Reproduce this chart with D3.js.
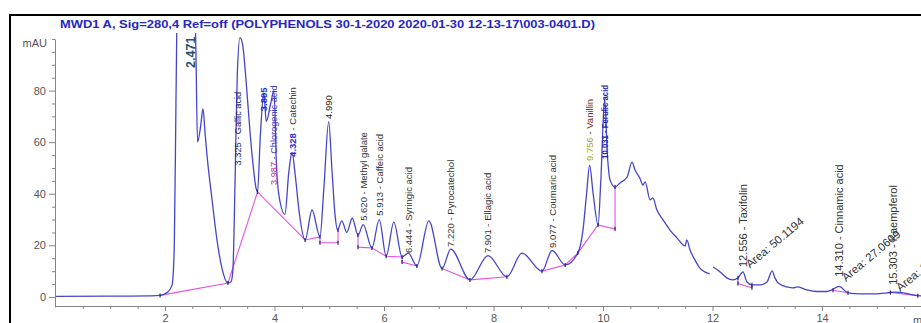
<!DOCTYPE html>
<html>
<head>
<meta charset="utf-8">
<script src="https://cdn.jsdelivr.net/npm/d3@7"></script>
<style>
  html, body { margin: 0; padding: 0; background: #fff; }
  svg { display: block; font-family: 'Liberation Sans', Arial, sans-serif; }
</style>
</head>
<body>
<svg id="chart" width="921" height="323"></svg>
<script>
// Chromatogram signal (min, mAU). null = break in the trace.
var retTime = [
  0.00, 1.00, 1.75, 1.91, 2.05, 2.13, 2.17, 2.20, 2.24, 2.32, 2.40, 2.47, 2.53, 2.565, 2.594,
  2.65, 2.694, 2.73, 2.767, 2.86, 2.95, 3.04, 3.15, 3.205, 3.24, 3.28, 3.32, 3.37, 3.42, 3.48,
  3.55, 3.61, 3.66, 3.69, 3.74, 3.805, 3.85, 3.93, 3.99, 4.04, 4.10, 4.19, 4.26, 4.32, 4.38,
  4.45, 4.56, 4.685, 4.83, 4.90, 4.99, 5.05, 5.105, 5.15, 5.23, 5.32, 5.42, 5.525, 5.62, 5.78,
  5.913, 6.04, 6.18, 6.33, 6.444, 6.60, 6.82, 7.06, 7.22, 7.57, 7.90, 8.245, 8.52, 8.885, 9.07,
  9.31, 9.54, 9.635, 9.70, 9.756, 9.82, 9.91, 9.96, 10.031, 10.08, 10.13, 10.22, 10.31, 10.44, 10.53,
  10.585, 10.675, 10.73, 10.77, 10.86, 10.91, 10.985, 11.10, 11.22, 11.35, 11.50, 11.53, 11.59, 11.68, 11.77,
  11.86, 11.95, 11.98, 12.01, 12.14, 12.26, 12.37, 12.465, 12.556, 12.63, 12.72, 12.87, 12.995, 13.09, 13.14,
  13.20, 13.36, 13.47, 13.56, 13.725, 13.91, 14.09, 14.18, 14.31, 14.475, 14.69, 15.00, 15.19, 15.33, 15.54,
  15.66, 15.81, 16.00
];
var absorbance = [
  0.2, 0.3, 0.4, 0.6, 1.9, 4.7, 20, 75, 140, 165, 150, 190, 130, 95, 60,
  66, 73, 64, 55, 37.6, 22, 11.2, 5.4, 5.8, 10.5, 45, 86, 100.5, 97.5, 84,
  64.7, 51, 42.5, 40.7, 62, 79, 68, 75, 80, 49, 37, 32, 48, 56, 47,
  33, 22.1, 33.7, 23.3, 41.5, 68, 49, 32, 26, 29.5, 25, 30.5, 24, 28, 19,
  30, 15.8, 29, 15.5, 17, 12, 29.5, 11, 18.5, 6.6, 16, 7.8, 17, 10, 18,
  12.4, 17, 26, 40, 51, 40, 27.9, 45, 77, 55, 45.3, 42.6, 44.2, 46.5, 52.3,
  49.2, 46, 43.4, 44.6, 37.6, 38.4, 33.7, 29.8, 26, 22.9, 19.8, 22.1, 18.2, 14.3, 11.2,
  9.7, 8.9, null, 11.6, 9.7, 7.4, 6.6, 7.4, 9.7, 5.8, 4.7, 4.7, 5.8, 10.1, 7.4,
  5.4, 3.9, 3.5, 3.9, 2.7, 2.1, 2.1, 2.7, 4.1, 1.6, 1.2, 1.2, 1.6, 1.9, 1.4,
  0.8, 0.4, 0.3
];

// Integration baselines (min, mAU)
var base1Time = [1.91, 3.15, 3.69, 4.56, 4.83, 4.83, 5.16, 5.16];
var base1Mau  = [0.6, 5.4, 40.7, 22.1, 23.3, 21, 21, 26];
var base2Time = [5.525, 5.525, 5.78, 6.04, 6.33, 6.33, 6.60];
var base2Mau  = [24, 19.3, 19, 15.8, 15.5, 13.5, 12];
var base3Time = [7.06, 7.57, 8.245];
var base3Mau  = [11, 6.6, 7.8];
var base4Time = [8.885, 9.31, 9.54, 9.91, 10.22, 10.22];
var base4Mau  = [10, 12.4, 17, 27.9, 26.3, 42.6];
var base5Time = [12.465, 12.465, 12.72, 12.72];
var base5Mau  = [7.4, 5.2, 3.6, 4.7];
var base6Time = [14.2, 14.475];
var base6Mau  = [2.6, 1.6];
var base7Time = [15.25, 15.75];
var base7Mau  = [1.7, 0.5];

// Peak annotations
var peakTimes = [2.471, 3.325, 3.805, 3.987, 4.328, 4.990, 5.620, 5.913, 6.444, 7.220,
                 7.901, 9.077, 9.756, 10.031, 12.556, 14.310, 15.303];
var peakNames = ['', 'Gallic acid', '', 'Chlorogenic acid', 'Catechin', '', 'Methyl galate',
                 'Caffeic acid', 'Syringic acid', 'Pyrocatechol', 'Ellagic acid', 'Coumaric acid',
                 'Vanillin', 'Ferulic acid', 'Taxifolin', 'Cinnamic acid', 'Kaempferol'];
var areaTimes  = [12.556, 14.310, 15.303];
var areaValues = [50.1194, 27.0609, 18.5512];

var xMajorTicks = [2, 4, 6, 8, 10, 12, 14];
var yMajorTicks = [0, 20, 40, 60, 80];
var titleText = 'MWD1 A, Sig=280,4 Ref=off (POLYPHENOLS 30-1-2020 2020-01-30 12-13-17\\003-0401.D)';

(function() {
  var svg = d3.select('#chart');

  var x = d3.scaleLinear().domain([0, 16]).range([55.5, 931.5]);
  var y = d3.scaleLinear().domain([-3.9, 100]).range([307, 39]);

  // outer frame
  svg.append('rect')
    .attr('x', 10).attr('y', 15)
    .attr('width', 1000).attr('height', 400)
    .attr('fill', 'none')
    .attr('stroke', '#000')
    .attr('stroke-width', 2);

  svg.append('text')
    .attr('x', 60).attr('y', 28)
    .attr('textLength', 535)
    .attr('lengthAdjust', 'spacingAndGlyphs')
    .attr('fill', '#2626c4')
    .style('font-size', '10.6px')
    .style('font-weight', 'bold')
    .text(titleText);

  // axes
  var axisColor = '#858585', labelColor = '#555';

  var xg = svg.append('g').attr('transform', 'translate(0,306)');
  xg.call(d3.axisBottom(x).tickValues(xMajorTicks).tickSize(5).tickPadding(3).tickSizeOuter(0));
  var xMinor = d3.range(0.5, 16, 0.5).filter(function(d) { return xMajorTicks.indexOf(d) < 0; });
  svg.append('g').attr('transform', 'translate(0,306)')
    .call(d3.axisBottom(x).tickValues(xMinor).tickSize(3).tickFormat('').tickSizeOuter(0))
    .select('.domain').remove();

  var yg = svg.append('g').attr('transform', 'translate(55,0)');
  yg.call(d3.axisLeft(y).tickValues(yMajorTicks).tickSize(6).tickPadding(3).tickSizeOuter(0));
  var yMinor = d3.range(5, 101, 5).filter(function(d) { return yMajorTicks.indexOf(d) < 0; });
  svg.append('g').attr('transform', 'translate(55,0)')
    .call(d3.axisLeft(y).tickValues(yMinor).tickSize(3).tickFormat('').tickSizeOuter(0))
    .select('.domain').remove();

  svg.selectAll('.domain, .tick line').attr('stroke', axisColor);
  svg.selectAll('.tick text')
    .attr('fill', labelColor)
    .style('font-size', '11px')
    .style('font-family', "'Liberation Sans', Arial, sans-serif");

  svg.append('text')
    .attr('x', 47).attr('y', 47)
    .attr('text-anchor', 'end')
    .attr('fill', labelColor)
    .style('font-size', '11px')
    .text('mAU');

  svg.append('text')
    .attr('x', 913).attr('y', 324)
    .attr('fill', labelColor)
    .style('font-size', '11px')
    .text('min');

  // plot area clip
  svg.append('clipPath').attr('id', 'plot-clip')
    .append('rect').attr('x', 56).attr('y', 33).attr('width', 870).attr('height', 274);

  var plot = svg.append('g').attr('clip-path', 'url(#plot-clip)');

  // integration baselines
  var segments = [
    [base1Time, base1Mau], [base2Time, base2Mau], [base3Time, base3Mau], [base4Time, base4Mau],
    [base5Time, base5Mau], [base6Time, base6Mau], [base7Time, base7Mau]
  ];
  var segLine = d3.line()
    .x(function(d) { return x(d[0]); })
    .y(function(d) { return y(d[1]); });

  segments.forEach(function(s) {
    plot.append('path')
      .datum(d3.zip(s[0], s[1]))
      .attr('d', segLine)
      .attr('fill', 'none')
      .attr('stroke', '#e650e6')
      .attr('stroke-width', 1.1);
  });

  // signal trace
  var trace = retTime.map(function(t, i) { return { t: t, v: absorbance[i] }; });
  var line = d3.line()
    .defined(function(d) { return d.v !== null; })
    .x(function(d) { return x(d.t); })
    .y(function(d) { return y(d.v); })
    .curve(d3.curveMonotoneX);

  plot.append('path')
    .datum(trace)
    .attr('d', line)
    .attr('fill', 'none')
    .attr('stroke', '#4545cc')
    .attr('stroke-width', 1.3)
    .attr('stroke-linejoin', 'round');

  // small peak start/stop markers
  segments.forEach(function(s) {
    d3.zip(s[0], s[1]).forEach(function(p) {
      plot.append('line')
        .attr('x1', x(p[0])).attr('x2', x(p[0]))
        .attr('y1', y(p[1]) - 2).attr('y2', y(p[1]) + 2)
        .attr('stroke', '#23237f')
        .attr('stroke-width', 1.2);
    });
  });

  // peak labels (layout: bottom of each label in mAU)
  var labelLayout = [
    { base: 88.8, size: 12.5, num: '#24506e', name: '#333', bold: true },
    { base: 51,   size: 9.2, num: '#1b1b6b', name: '#1b1b6b' },
    { base: 72,   size: 9.5, num: '#2a2ad0', name: '#2a2ad0', bold: true },
    { base: 43.4, size: 9.2, num: '#c02aa8', name: '#3535c0' },
    { base: 54.3, size: 9.5, num: '#2a2ad0', name: '#333', bold: true },
    { base: 69,   size: 9.5, num: '#222', name: '#222' },
    { base: 29.5, size: 9.5, num: '#333', name: '#333' },
    { base: 31.5, size: 9.5, num: '#333', name: '#333' },
    { base: 17,   size: 9.5, num: '#333', name: '#333' },
    { base: 19.4, size: 9.5, num: '#333', name: '#333' },
    { base: 17,   size: 9.5, num: '#333', name: '#333' },
    { base: 19,   size: 9.5, num: '#333', name: '#333' },
    { base: 52.7, size: 9.5, num: '#a6a61a', name: '#6e1a1a' },
    { base: 53.5, size: 9.5, num: '#2525b5', name: '#2525b5', bold: true, len: 74 },
    { base: 11.6, size: 11, num: '#333', name: '#333' },
    { base: 7.8,  size: 11, num: '#333', name: '#333' },
    { base: 4.7,  size: 11, num: '#333', name: '#333' }
  ];
  var fmt = d3.format('.3f');

  var labels = svg.append('g');
  peakTimes.forEach(function(t, i) {
    var L = labelLayout[i];
    var txt = labels.append('text')
      .attr('transform', 'translate(' + (x(t) + L.size * 0.36) + ',' + y(L.base) + ') rotate(-90)')
      .style('font-size', L.size + 'px');
    if (L.len) txt.attr('textLength', L.len).attr('lengthAdjust', 'spacingAndGlyphs');
    txt.append('tspan')
      .attr('fill', L.num)
      .style('font-weight', L.bold ? 'bold' : 'normal')
      .text(fmt(t));
    if (peakNames[i]) {
      txt.append('tspan')
        .attr('fill', L.name)
        .style('font-weight', L.bold && L.name === L.num ? 'bold' : 'normal')
        .text(' - ' + peakNames[i]);
    }
  });

  var areaLayout = [11, 5.8, 1.9];
  areaTimes.forEach(function(t, i) {
    labels.append('text')
      .attr('transform', 'translate(' + (x(t) + 7) + ',' + y(areaLayout[i]) + ') rotate(-40)')
      .attr('fill', '#333')
      .style('font-size', '11.5px')
      .text('Area: ' + d3.format('.4f')(areaValues[i]));
  });
})();
</script>
</body>
</html>
